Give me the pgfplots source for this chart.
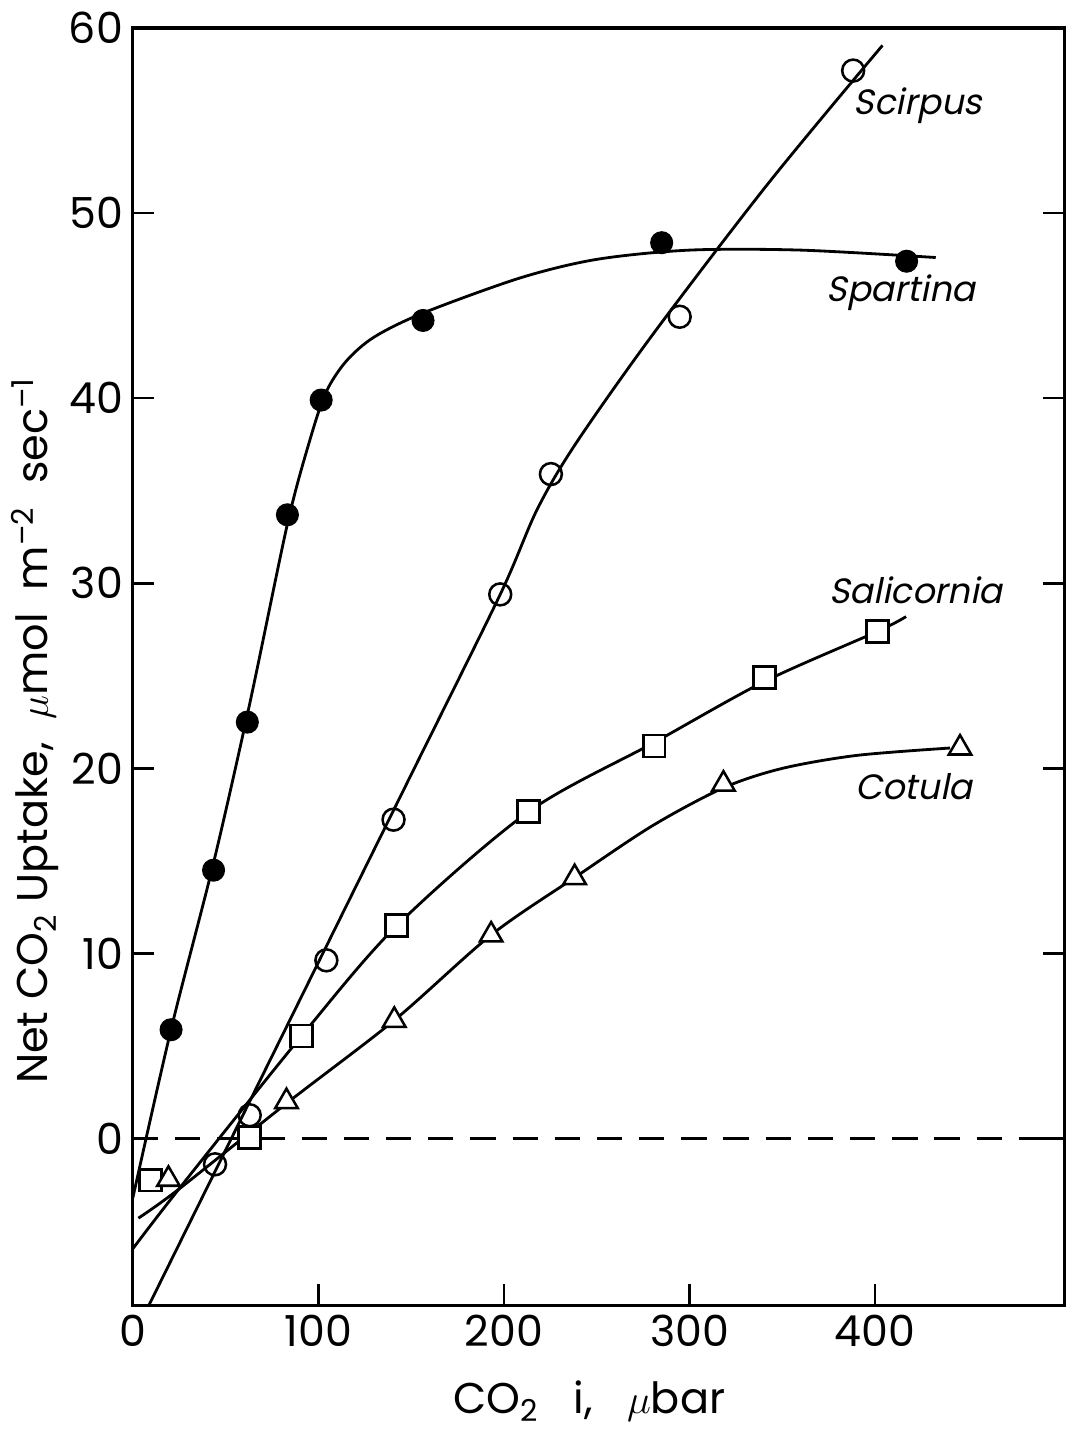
\documentclass[border=0pt]{standalone}
\usepackage{fontspec}
\setmainfont{Poppins}
\newfontfamily\slfont{Poppins}[FakeSlant=0.2]
\usepackage{pgfplots}
\pgfplotsset{compat=1.18}

\begin{document}
\begin{tikzpicture}
\begin{axis}[
    scale only axis,
    width=11.64cm,
    height=15.96cm,
    xmin=0, xmax=502,
    ymin=-9, ymax=60,
    xtick={0,100,200,300,400},
    ytick={0,10,20,30,40,50,60},
    xtick pos=bottom,
    ytick pos=both,
    yticklabel pos=left,
    tick align=inside,
    major tick length=0.27cm,
    tick style={line width=0.9pt, black},
    axis line style={line width=1.1pt},
    /pgf/number format/assume math mode=true,
    ticklabel style={font=\fontsize{15.2}{17}\selectfont},
    xlabel={CO\textsubscript{2}\ \ \ i,\ \ \ $\mu$bar},
    ylabel={Net CO\textsubscript{2} Uptake,\ \ $\mu$mol\ \ m\textsuperscript{--2}\ \ sec\textsuperscript{--1}},
    label style={font=\fontsize{15.3}{17}\selectfont},
    xlabel style={at={(axis description cs:0.49,-0.075)}, anchor=center},
    ylabel style={at={(axis description cs:-0.105,0.45)}, anchor=center},
]
% dashed zero line
\addplot[dash pattern=on 9pt off 6pt, line width=0.8pt] coordinates {(0,0) (502,0)};

% fitted curves
\addplot[smooth, line width=1pt] coordinates {
  (0,-3.2) (20.6,5.9) (43.5,14.9) (63,23.5) (83.3,33.2) (95,37.6) (104,40.3)
  (115,42.0) (130,43.3) (156.4,44.6) (208.8,46.5) (250,47.5) (300,48.0)
  (360,48.0) (432.7,47.6)};
\addplot[smooth, line width=1pt] coordinates {
  (8.7,-9) (100,9.52) (150,19.66) (198,29.4) (217.8,33.97) (238.4,37.5)
  (279.9,43.4) (342.4,51.6) (404,59.06)};
\addplot[smooth, line width=1pt] coordinates {
  (0,-5.95) (24.7,-2.74) (90.9,5.54) (142.2,11.5) (213.3,17.66) (281,21.4)
  (340.5,24.7) (401.3,27.4) (416.7,28.2)};
\addplot[smooth, line width=1pt] coordinates {
  (3,-4.3) (24.7,-2.74) (82.8,1.9) (140.9,6.39) (193.1,11.0) (238.1,14.1)
  (280,16.9) (318.3,18.95) (350,20.0) (390,20.7) (440.4,21.1)};

% Spartina
\addplot[only marks, mark=*, mark size=3.9pt, black, mark options={fill=black}] coordinates {
  (20.6,5.88) (43.5,14.5) (61.7,22.5) (83.3,33.7) (101.5,39.9) (156.4,44.2)
  (285,48.4) (417,47.4)};
% Scirpus
\addplot[only marks, mark=o, mark size=3.9pt, black, mark options={fill=white, line width=0.9pt}] coordinates {
  (44.3,-1.39) (63,1.26) (104.3,9.63) (140.5,17.23) (198,29.4) (225.3,35.9)
  (294.7,44.4) (388.2,57.7)};
% Salicornia
\addplot[only marks, mark=square*, mark size=3.9pt, black, mark options={fill=white, line width=0.9pt}] coordinates {
  (9.4,-2.25) (62.8,0.06) (90.9,5.54) (142.2,11.5) (213.3,17.66) (281,21.2)
  (340.5,24.9) (401.3,27.4)};
% Cotula
\addplot[only marks, mark=triangle*, mark size=4.6pt, black, mark options={fill=white, line width=0.9pt}] coordinates {
  (19.2,-2.2) (82.8,2.0) (140.9,6.39) (193.1,11.0) (238.1,14.1) (318.3,19.15)
  (445.8,21.1)};

\node[font=\slfont\fontsize{12.5}{14}\selectfont] at (axis cs:423,55.8) {Scirpus};
\node[font=\slfont\fontsize{12.5}{14}\selectfont] at (axis cs:414,45.7) {Spartina};
\node[font=\slfont\fontsize{12.5}{14}\selectfont] at (axis cs:422,29.6) {Salicornia};
\node[font=\slfont\fontsize{12.5}{14}\selectfont] at (axis cs:421,19.0) {Cotula};

\coordinate (bl) at (rel axis cs:0,0);
\coordinate (tr) at (rel axis cs:1,1);
\end{axis}
\path (bl) ++(-1.66cm,-1.66cm);
\path (tr) ++(0.34cm,0.35cm);
\end{tikzpicture}
\end{document}
